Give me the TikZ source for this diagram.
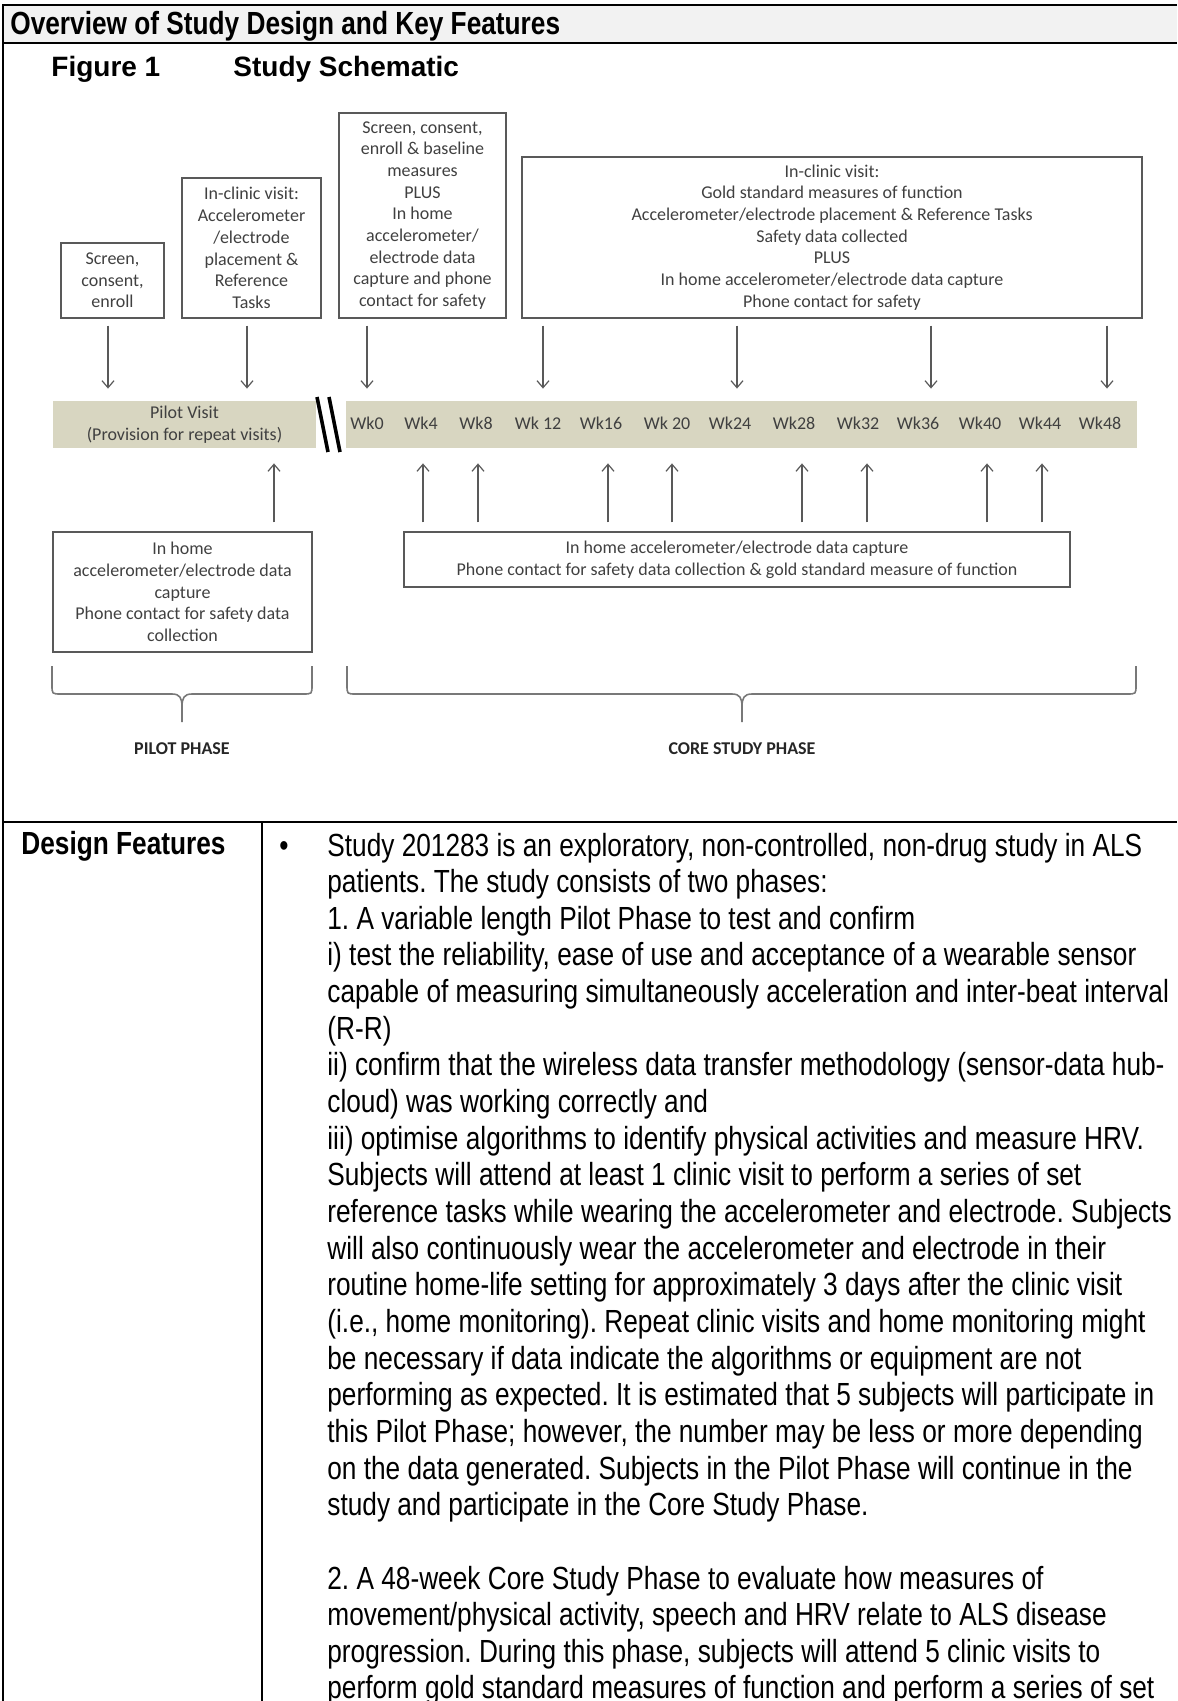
\documentclass[tikz,border=0pt]{standalone}
\usepackage{fontspec}
\setmainfont{Carlito}
\newfontfamily\narrowfont{Liberation Sans}[FakeStretch=0.82]
\newfontfamily\arialfont{Liberation Sans}
\usetikzlibrary{arrows.meta}
\definecolor{bartan}{RGB}{216,214,193}
\definecolor{boxgray}{RGB}{89,89,89}
\definecolor{textgray}{RGB}{64,64,64}
\definecolor{headgray}{RGB}{242,242,242}
\definecolor{bracegray}{RGB}{120,120,120}
\frenchspacing
\begin{document}
\begin{tikzpicture}[x=0.5pt,y=-0.5pt]
  \tikzstyle{box}=[draw=boxgray,line width=0.75pt,inner sep=0pt,align=center,text=textgray,font=\fontsize{9}{10.85}\selectfont];
  \tikzstyle{bar}=[fill=bartan,inner sep=0pt,align=center,text=textgray,font=\fontsize{9}{10.85}\selectfont,minimum height=23.5pt];
  \tikzstyle{week}=[anchor=base,inner sep=0pt,text=textgray,font=\fontsize{9}{10.85}\selectfont];
  \tikzstyle{downarrow}=[-{Straight Barb[length=3.5pt,width=6pt]},draw=boxgray,line width=0.6pt,shorten <=3.5pt,shorten >=6pt];
  \tikzstyle{uparrow}=[-{Straight Barb[length=3.5pt,width=6pt]},draw=boxgray,line width=0.6pt,shorten <=4.5pt,shorten >=7.5pt];
  \tikzstyle{phasebrace}=[draw=bracegray,line width=0.8pt];
  \tikzstyle{phase}=[anchor=base,inner sep=0pt,text=black!85,font=\bfseries\fontsize{9}{10.85}\selectfont];
  \tikzstyle{frame}=[draw=black,line width=1pt];
  \tikzstyle{heading}=[anchor=base west,inner sep=0pt,font=\narrowfont\bfseries\fontsize{16}{18.3}\selectfont];
  \tikzstyle{figtitle}=[anchor=base west,inner sep=0pt,font=\arialfont\bfseries\fontsize{14}{16}\selectfont];
  \tikzstyle{bodytext}=[anchor=base west,inner sep=0pt,font=\narrowfont\fontsize{16}{18.3}\selectfont];

  \useasboundingbox (0,0) rectangle (1177,1701);
  \clip (0,0) rectangle (1177,1701);

  % table frame
  \fill[headgray] (3,5) rectangle (1177,43);
  \draw[frame] (1177,5) -- (3,5) -- (3,1701);
  \draw[frame] (3,43) -- (1177,43);
  \draw[frame] (3,822) -- (1177,822);
  \draw[frame] (262,822) -- (262,1701);

  \node[heading] (head) at (10,35) {Overview of Study Design and Key Features};
  \node[figtitle] (fig) at (51,77) {Figure 1};
  \node[figtitle] (schem) at (233,77) {Study Schematic};

  % visit boxes
  \node[box,minimum width=51.5pt,minimum height=37.5pt] (b1) at (112.5,280.5) {Screen,\\consent,\\enroll};
  \node[box,minimum width=69.5pt,minimum height=70pt] (b2) at (251.5,248) {In-clinic visit:\\Accelerometer\\/electrode\\placement \&\\Reference\\Tasks};
  \node[box,minimum width=83.5pt,minimum height=102.5pt] (b3) at (422.5,215.5) {Screen, consent,\\enroll \& baseline\\measures\\PLUS\\In home\\accelerometer/\\electrode data\\capture and phone\\contact for safety};
  \node[box,minimum width=310pt,minimum height=80.5pt] (b4) at (832,237.5) {In-clinic visit:\\Gold standard measures of function\\Accelerometer/electrode placement \& Reference Tasks\\Safety data collected\\PLUS\\In home accelerometer/electrode data capture\\Phone contact for safety};

  % time line
  \node[bar,minimum width=131.5pt] (pilotbar) at (184.5,424.5) {Pilot Visit\\(Provision for repeat visits)};
  \node[bar,minimum width=395.5pt] (corebar) at (741.5,424.5) {};
  \draw[line width=1.8pt] (317,397) -- (328,452);
  \draw[line width=1.8pt] (329,397) -- (340,452);

  \foreach \lab/\lx/\ax/\id in {Wk0/367/367/0,Wk4/421/423/4,Wk8/476/478/8,Wk 12/538/543/12,Wk16/601/608/16,Wk 20/667/672/20,Wk24/730/737/24,Wk28/794/802/28,Wk32/858/867/32,Wk36/918/931/36,Wk40/980/987/40,Wk44/1040/1042/44,Wk48/1100/1107/48}{
    \node[week] (wk\id) at (\lx,429) {\lab};
    \coordinate (ax\id) at (\ax,424);
  }
  \coordinate (p1) at (108,424);
  \coordinate (p2) at (247,424);
  \coordinate (p3) at (274,424);

  % home monitoring boxes
  \node[box,minimum width=129.5pt,minimum height=60pt] (lb1) at (182.5,592) {In home\\accelerometer/electrode data\\capture\\Phone contact for safety data\\collection};
  \node[box,minimum width=333pt,minimum height=27.5pt] (lb2) at (737,559.5) {In home accelerometer/electrode data capture\\Phone contact for safety data collection \& gold standard measure of function};

  % clinic visits
  \draw[downarrow] (b1.south -| p1) -- (pilotbar.north -| p1);
  \draw[downarrow] (b2.south -| p2) -- (pilotbar.north -| p2);
  \draw[downarrow] (b3.south -| ax0) -- (corebar.north -| ax0);
  \foreach \id in {12,24,36,48}
    \draw[downarrow] (b4.south -| ax\id) -- (corebar.north -| ax\id);

  % home visits
  \draw[uparrow] (lb1.north -| p3) -- (pilotbar.south -| p3);
  \foreach \id in {4,8,16,20,28,32,40,44}
    \draw[uparrow] (lb2.north -| ax\id) -- (corebar.south -| ax\id);

  % phase braces
  \draw[phasebrace] (52,666) -- (52,685) .. controls (52,694) .. (61,694) -- (172,694) .. controls (180,694) and (182,698) .. (182,707) -- (182,722)
    (312,666) -- (312,685) .. controls (312,694) .. (303,694) -- (192,694) .. controls (184,694) and (182,698) .. (182,707);
  \draw[phasebrace] (347,666) -- (347,685) .. controls (347,694) .. (356,694) -- (732,694) .. controls (740,694) and (742,698) .. (742,707) -- (742,722)
    (1136,666) -- (1136,685) .. controls (1136,694) .. (1127,694) -- (752,694) .. controls (744,694) and (742,698) .. (742,707);
  \node[phase] (pilotlab) at (182,754) {PILOT PHASE};
  \node[phase] (corelab) at (742,754) {CORE STUDY PHASE};

  % design features row
  \node[heading] (design) at (21,854) {Design Features};
  \node[bodytext,anchor=base] (bullet) at (284,856) {\textbullet};
  \foreach \n/\txt in {
    1/{Study 201283 is an exploratory, non-controlled, non-drug study in ALS},
    2/{patients. The study consists of two phases:},
    3/{1. A variable length Pilot Phase to test and confirm},
    4/{i) test the reliability, ease of use and acceptance of a wearable sensor},
    5/{capable of measuring simultaneously acceleration and inter-beat interval},
    6/{(R-R)},
    7/{ii) confirm that the wireless data transfer methodology (sensor-data hub-},
    8/{cloud) was working correctly and},
    9/{iii) optimise algorithms to identify physical activities and measure HRV.},
    10/{Subjects will attend at least 1 clinic visit to perform a series of set},
    11/{reference tasks while wearing the accelerometer and electrode. Subjects},
    12/{will also continuously wear the accelerometer and electrode in their},
    13/{routine home-life setting for approximately 3 days after the clinic visit},
    14/{(i.e., home monitoring). Repeat clinic visits and home monitoring might},
    15/{be necessary if data indicate the algorithms or equipment are not},
    16/{performing as expected. It is estimated that 5 subjects will participate in},
    17/{this Pilot Phase; however, the number may be less or more depending},
    18/{on the data generated. Subjects in the Pilot Phase will continue in the},
    19/{study and participate in the Core Study Phase.},
    21/{2. A 48-week Core Study Phase to evaluate how measures of},
    22/{movement/physical activity, speech and HRV relate to ALS disease},
    23/{progression. During this phase, subjects will attend 5 clinic visits to},
    24/{perform gold standard measures of function and perform a series of set}}
    \node[bodytext] (line\n) at (327,{856+36.65*(\n-1)}) {\txt};
\end{tikzpicture}
\end{document}
